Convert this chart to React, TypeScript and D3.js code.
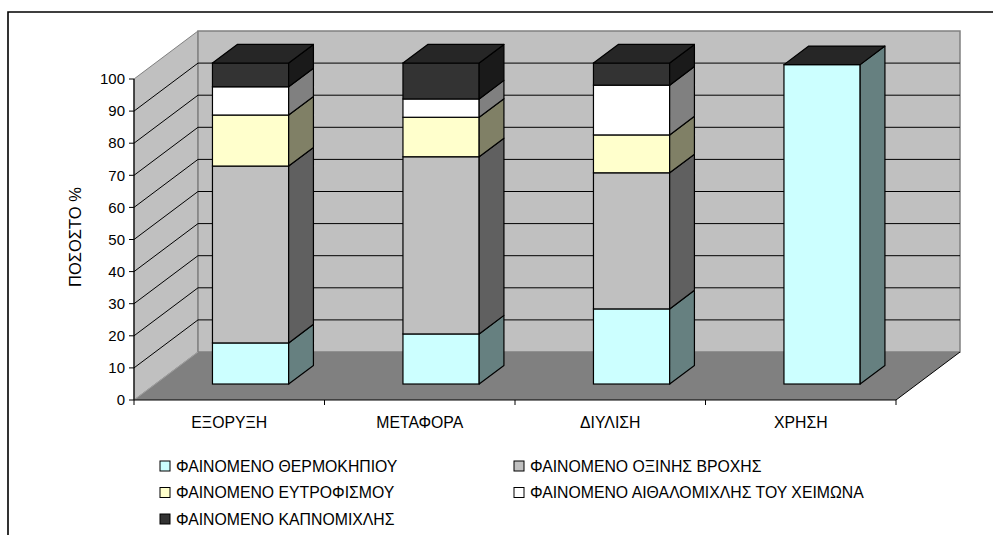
import React from "react";
import * as d3 from "d3";

// Categories (stages) and the five stacked series, in percent
const categories = ["ΕΞΟΡΥΞΗ", "ΜΕΤΑΦΟΡΑ", "ΔΙΥΛΙΣΗ", "ΧΡΗΣΗ"];
const seriesNames = [
  "ΦΑΙΝΟΜΕΝΟ ΘΕΡΜΟΚΗΠΙΟΥ",
  "ΦΑΙΝΟΜΕΝΟ ΟΞΙΝΗΣ ΒΡΟΧΗΣ",
  "ΦΑΙΝΟΜΕΝΟ ΕΥΤΡΟΦΙΣΜΟΥ",
  "ΦΑΙΝΟΜΕΝΟ ΑΙΘΑΛΟΜΙΧΛΗΣ ΤΟΥ ΧΕΙΜΩΝΑ",
  "ΦΑΙΝΟΜΕΝΟ ΚΑΠΝΟΜΙΧΛΗΣ",
];
const greenhouse = [12.8, 15.6, 23.4, 99.5];
const acidRain = [55.1, 55.2, 42.4, 0];
const eutrophication = [15.9, 12.3, 11.8, 0];
const winterSmog = [8.8, 5.7, 15.5, 0];
const summerSmog = [7.4, 11.2, 6.9, 0];
const yTicks = [0, 10, 20, 30, 40, 50, 60, 70, 80, 90, 100];
const yTitle = "ΠΟΣΟΣΤΟ %";

const seriesValues = [greenhouse, acidRain, eutrophication, winterSmog, summerSmog];
const frontColors = ["#CCFFFF", "#C0C0C0", "#FFFFCC", "#FFFFFF", "#333333"];
const sideColors = ["#668080", "#606060", "#808066", "#808080", "#1A1A1A"];
const topColors = ["#99BFBF", "#909090", "#BFBF99", "#BFBFBF", "#262626"];

const FONT = "'Liberation Sans', Arial, sans-serif";

// 3D projection parameters
const X0 = 134;
const X1 = 896;
const DX = 64;
const DY = -48;
const BAR_Z0 = 0.333;
const BAR_Z1 = 0.72;

export default function App() {
  const x = d3.scaleBand<string>().domain(categories).range([X0, X1]).padding(0);
  const y = d3.scaleLinear().domain([0, 100]).range([400, 79]);
  const bw = x.bandwidth();
  const barW = bw * 0.4;

  const stack = d3
    .stack<number>()
    .keys(d3.range(seriesValues.length).map(String))
    .value((i, k) => seriesValues[+k][i]);
  const stacked = stack(d3.range(categories.length));

  const pt = (px: number, py: number) => `${px},${py}`;
  const y0 = y(0);
  const yTop = y(100);

  const legendRows = [
    [0, 1],
    [2, 3],
    [4],
  ];

  return (
    <div style={{ position: "fixed", left: 0, top: 0, width: 993, height: 535, overflow: "hidden", background: "#fff" }}>
      <svg width={993} height={535} style={{ display: "block" }} fontFamily={FONT}>
        {/* chart area frame (continues past the right and bottom edges) */}
        <path d="M 1100 12 H 8 V 700" fill="none" stroke="#000" strokeWidth={1.6} />

        {/* left wall */}
        <polygon
          points={[pt(X0, yTop), pt(X0 + DX, yTop + DY), pt(X0 + DX, y0 + DY), pt(X0, y0)].join(" ")}
          fill="#C0C0C0"
          stroke="#808080"
          strokeWidth={1}
        />
        {/* back wall */}
        <polygon
          points={[
            pt(X0 + DX, yTop + DY),
            pt(X1 + DX, yTop + DY),
            pt(X1 + DX, y0 + DY),
            pt(X0 + DX, y0 + DY),
          ].join(" ")}
          fill="#C0C0C0"
          stroke="#808080"
          strokeWidth={1.5}
        />
        {/* floor */}
        <polygon
          points={[pt(X0, y0), pt(X1, y0), pt(X1 + DX, y0 + DY), pt(X0 + DX, y0 + DY)].join(" ")}
          fill="#808080"
        />
        <line x1={X0} y1={y0} x2={X0 + DX} y2={y0 + DY} stroke="#A0A0A0" strokeWidth={1} />
        <line x1={X1} y1={y0} x2={X1 + DX} y2={y0 + DY} stroke="#000" strokeWidth={1} />

        {/* gridlines on walls */}
        {yTicks
          .filter((t) => t > 0 && t < 100)
          .map((t) => (
            <g key={`g${t}`}>
              <line x1={X0} y1={y(t)} x2={X0 + DX} y2={y(t) + DY} stroke="#000" strokeWidth={1} />
              <line x1={X0 + DX} y1={y(t) + DY} x2={X1 + DX} y2={y(t) + DY} stroke="#000" strokeWidth={1} />
            </g>
          ))}

        {/* bars */}
        {categories.map((c, ci) => {
          const fx = (x(c) as number) + bw * 0.3 + DX * BAR_Z0;
          const fyOff = DY * BAR_Z0;
          const ddx = DX * (BAR_Z1 - BAR_Z0);
          const ddy = DY * (BAR_Z1 - BAR_Z0);
          const faces: React.ReactNode[] = [];
          stacked.forEach((layer, si) => {
            const [a, b] = layer[ci];
            if (b - a <= 0) return;
            const yb = y(a) + fyOff;
            const yt = y(b) + fyOff;
            faces.push(
              <rect
                key={`f${si}`}
                x={fx}
                y={yt}
                width={barW}
                height={yb - yt}
                fill={frontColors[si]}
                stroke="#000"
                strokeWidth={1.2}
              />,
              <polygon
                key={`s${si}`}
                points={[pt(fx + barW, yb), pt(fx + barW, yt), pt(fx + barW + ddx, yt + ddy), pt(fx + barW + ddx, yb + ddy)].join(" ")}
                fill={sideColors[si]}
                stroke="#000"
                strokeWidth={1.2}
                strokeLinejoin="round"
              />
            );
          });
          const last = stacked[stacked.length - 1][ci][1];
          const yt = y(last) + fyOff;
          faces.push(
            <polygon
              key="top"
              points={[pt(fx, yt), pt(fx + barW, yt), pt(fx + barW + ddx, yt + ddy), pt(fx + ddx, yt + ddy)].join(" ")}
              fill={topColors[topColors.length - 1]}
              stroke="#000"
              strokeWidth={1.2}
              strokeLinejoin="round"
            />
          );
          return <g key={c}>{faces}</g>;
        })}

        {/* value axis */}
        <line x1={X0} y1={yTop} x2={X0} y2={y0} stroke="#000" strokeWidth={1.2} />
        {yTicks.map((t) => (
          <g key={`t${t}`}>
            <line x1={X0 - 5} y1={y(t)} x2={X0} y2={y(t)} stroke="#000" strokeWidth={1} />
            <text x={X0 - 9} y={y(t)} dy="0.35em" textAnchor="end" fontSize={15} fill="#000">
              {t}
            </text>
          </g>
        ))}
        <text transform={`translate(81,237) rotate(-90)`} textAnchor="middle" fontSize={16.5} fill="#000">
          {yTitle}
        </text>

        {/* category axis */}
        <line x1={X0} y1={y0} x2={X1} y2={y0} stroke="#000" strokeWidth={1.2} />
        {d3.range(categories.length + 1).map((i) => (
          <line key={`ct${i}`} x1={X0 + i * bw} y1={y0} x2={X0 + i * bw} y2={y0 + 5} stroke="#000" strokeWidth={1} />
        ))}
        {categories.map((c) => (
          <text key={`cl${c}`} x={(x(c) as number) + bw / 2} y={428} textAnchor="middle" fontSize={15.8} fill="#000">
            {c}
          </text>
        ))}

        {/* legend */}
        {legendRows.map((row, ri) =>
          row.map((si, ki) => {
            const lx = ki === 0 ? 160 : 514;
            const ly = 466 + ri * 26.5;
            return (
              <g key={`lg${si}`}>
                <rect x={lx} y={ly - 5} width={10} height={10} fill={frontColors[si]} stroke="#000" strokeWidth={1} />
                <text x={lx + 16} y={ly} dy="0.35em" fontSize={15.8} fill="#000">
                  {seriesNames[si]}
                </text>
              </g>
            );
          })
        )}
      </svg>
    </div>
  );
}
